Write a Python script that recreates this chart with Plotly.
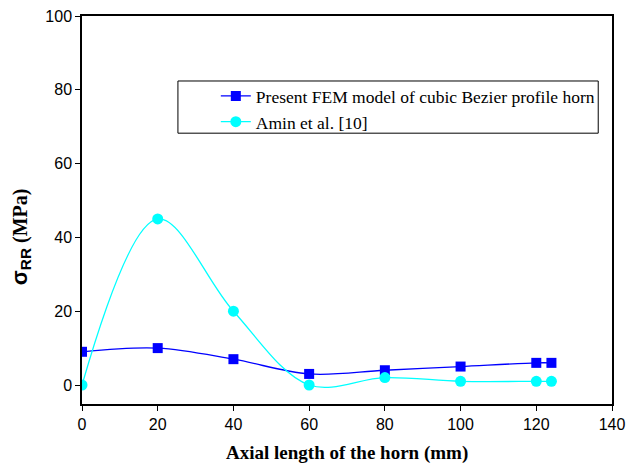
import plotly.graph_objects as go

x_vals = [0, 20, 40, 60, 80, 100, 120, 124]
fem_vals = [9, 10, 7, 3, 4, 5, 6, 6]
amin_vals = [0, 45, 20, 0, 2, 1, 1, 1]
names = ["Present FEM model of cubic Bezier profile horn", "Amin et al. [10]"]
x_ticks = [0, 20, 40, 60, 80, 100, 120, 140]
y_ticks = [0, 20, 40, 60, 80, 100]

fig = go.Figure()
fig.add_trace(go.Scatter(
    x=x_vals, y=fem_vals, name=names[0], mode="lines+markers",
    line=dict(color="#0000ff", width=1.3, shape="spline", smoothing=1.0),
    marker=dict(symbol="square", size=10, color="#0000ff"),
))
fig.add_trace(go.Scatter(
    x=x_vals, y=amin_vals, name=names[1], mode="lines+markers",
    line=dict(color="#00ffff", width=1.3, shape="spline", smoothing=1.0),
    marker=dict(symbol="circle", size=11, color="#00ffff"),
))

axis_common = dict(
    showgrid=False, zeroline=False, showline=True, linecolor="black", linewidth=1.5,
    mirror=True, ticks="outside", ticklen=5, tickwidth=1.3, tickcolor="black",
    tickfont=dict(family="Liberation Sans, Arial", size=16, color="black"),
    minor=dict(ticks="outside", ticklen=3, tickwidth=1, tickcolor="black", nticks=2),
    automargin=False,
)

fig.update_layout(
    width=639, height=469,
    margin=dict(l=82, r=27, t=16, b=65),
    plot_bgcolor="white", paper_bgcolor="white",
    xaxis=dict(range=[0, 140], tickvals=x_ticks, **axis_common),
    yaxis=dict(range=[-5.15, 100], tickvals=y_ticks, **axis_common),
    legend=dict(x=0.2525, y=0.84, xanchor="left", yanchor="top",
                borderwidth=0, bgcolor="rgba(0,0,0,0)",
                font=dict(family="Liberation Serif, Times New Roman", size=17.5, color="black"),
                tracegroupgap=0),
    showlegend=True,
    shapes=[dict(type="rect", xref="paper", yref="paper",
                 x0=0.181, x1=0.974, y0=0.698, y1=0.8325,
                 line=dict(color="black", width=1), layer="below")],
    annotations=[
        dict(text="<b><span style='font-family:Liberation Sans;font-size:22px'>σ<sub>RR</sub></span> (MPa)</b>",
             xref="paper", yref="paper", x=-0.115, y=0.43, textangle=-90,
             showarrow=False, xanchor="center", yanchor="middle",
             font=dict(family="Liberation Serif, Times New Roman", size=20, color="black")),
        dict(text="<b>Axial length of the horn (mm)</b>",
             xref="paper", yref="paper", x=0.5, y=-0.127,
             showarrow=False, xanchor="center", yanchor="middle",
             font=dict(family="Liberation Serif, Times New Roman", size=19, color="black")),
    ],
)

fig.write_html("out.html")
